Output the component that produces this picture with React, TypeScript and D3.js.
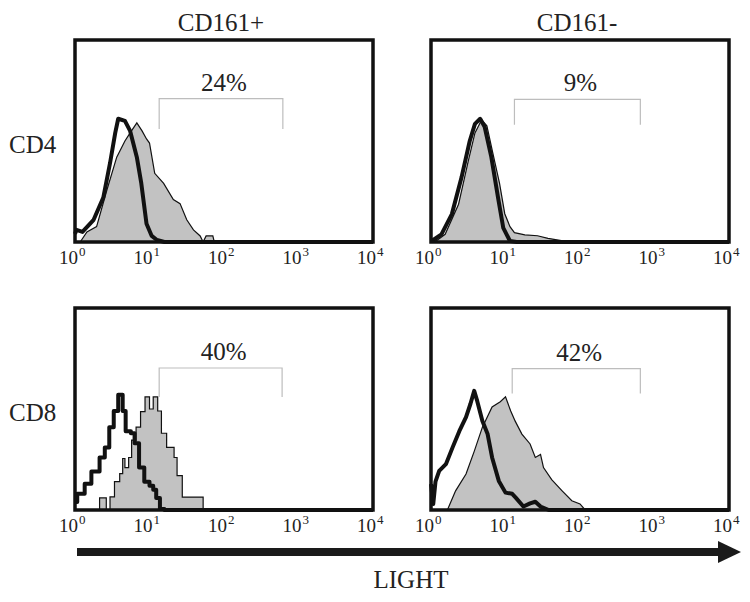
import React from "react";
import * as d3 from "d3";

// Column / row labels
const columnTitles = ["CD161+", "CD161-"];
const rowLabels = ["CD4", "CD8"];
const percentLabels = ["24%", "9%", "40%", "42%"];
const tickExponents = [0, 1, 2, 3, 4];
const axisTitle = "LIGHT";

// Histogram data: [log10 fluorescence, relative count (0-100 = box height)]
// Panel 1: CD4 / CD161+
const p1Isotype: [number, number][] = [
  [0.0, 4], [0.02, 6], [0.1, 5], [0.25, 11], [0.38, 22], [0.47, 39], [0.54, 54], [0.58, 61],
  [0.67, 60], [0.74, 55], [0.83, 42], [0.89, 29], [0.96, 9], [1.03, 3], [1.1, 1], [1.2, 0], [4, 0],
];
const p1Stain: [number, number][] = [
  [0.07, 0], [0.16, 5], [0.29, 7.6], [0.43, 26], [0.56, 42], [0.67, 50], [0.74, 54], [0.83, 59],
  [0.9, 55], [0.96, 51], [1.0, 49], [1.07, 34], [1.19, 29], [1.32, 21], [1.41, 19], [1.5, 11],
  [1.59, 6], [1.68, 3], [1.72, 0], [1.76, 3], [1.85, 3], [1.87, 0],
];
// Panel 2: CD4 / CD161-
const p2Isotype: [number, number][] = [
  [0.0, 1], [0.03, 1], [0.14, 3.8], [0.28, 13.8], [0.41, 32], [0.52, 50], [0.59, 58.5], [0.66, 61],
  [0.72, 57], [0.81, 42], [0.9, 22], [0.97, 7], [1.06, 0.5], [1.15, 0], [4, 0],
];
const p2Stain: [number, number][] = [
  [0.05, 0], [0.19, 3.8], [0.37, 18.7], [0.5, 40], [0.59, 54], [0.68, 60.5], [0.75, 57.5],
  [0.83, 44], [0.92, 29], [0.99, 14], [1.06, 7.6], [1.12, 4.6], [1.26, 3.5], [1.43, 3.1],
  [1.57, 1.8], [1.75, 0.7], [1.88, 0],
];
// Panel 3: CD8 / CD161+ (stepped)
const p3Isotype: [number, number][] = [
  [0.0, 4], [0.03, 8], [0.13, 13], [0.22, 19], [0.33, 26], [0.4, 31], [0.46, 41], [0.52, 49],
  [0.58, 57], [0.64, 49], [0.68, 39], [0.75, 38], [0.8, 33], [0.86, 21], [0.93, 14], [1.0, 12],
  [1.05, 10], [1.09, 6], [1.14, 0.5], [1.2, 0], [4, 0],
];
const p3Stain: [number, number][] = [
  [0.31, 0], [0.33, 6], [0.42, 0], [0.47, 6.5], [0.53, 14], [0.6, 18], [0.64, 25.5], [0.67, 21],
  [0.72, 26], [0.76, 34.6], [0.82, 41], [0.88, 48.7], [0.94, 56], [1.0, 50], [1.05, 56],
  [1.11, 49], [1.16, 38], [1.23, 31], [1.33, 26], [1.37, 17], [1.44, 6.4], [1.72, 0], [1.75, 0],
];
// Panel 4: CD8 / CD161-
const p4Isotype: [number, number][] = [
  [0.0, 12.8], [0.03, 3], [0.06, 14], [0.11, 19.4], [0.2, 22.7], [0.29, 31], [0.38, 39], [0.47, 46],
  [0.53, 52.6], [0.58, 59], [0.62, 54], [0.69, 44], [0.76, 37.6], [0.82, 26], [0.91, 14.4],
  [1.0, 8.6], [1.09, 8], [1.14, 6], [1.24, 1.7], [1.33, 3.3], [1.4, 4.1], [1.47, 1.7], [1.58, 0], [4, 0],
];
const p4Stain: [number, number][] = [
  [0.22, 0], [0.33, 9.5], [0.47, 17.8], [0.58, 29], [0.69, 41], [0.82, 51], [0.93, 53.6], [1.0, 56],
  [1.07, 49], [1.13, 44], [1.22, 37.6], [1.33, 32.7], [1.4, 26], [1.47, 27.5], [1.51, 21],
  [1.62, 15], [1.76, 9.5], [1.89, 4.6], [2.0, 3], [2.07, 0],
];

const isotypes = [p1Isotype, p2Isotype, p3Isotype, p4Isotype];
const stains = [p1Stain, p2Stain, p3Stain, p4Stain];
const stepped = [false, false, true, false];
// gate bracket (log10 bounds) and heights
const gateLow = [1.13, 1.12, 1.13, 1.09];
const gateHigh = [2.79, 2.81, 2.78, 2.81];
const gateTop = [71, 70.6, 70.3, 70];
const gateBottom = [56, 58, 56, 57.7];

const W = 750;
const H = 602;
const colX = [75, 431];
const rowY = [40, 308];
const boxW = 298;
const boxH = 202;
const FONT = "'Liberation Serif', 'Times New Roman', serif";

function Panel({ idx }: { idx: number }) {
  const col = idx % 2;
  const row = Math.floor(idx / 2);
  const x0 = colX[col];
  const y0 = rowY[row];
  const x = d3.scaleLog().domain([1, 1e4]).range([x0, x0 + boxW]);
  const y = d3.scaleLinear().domain([0, 100]).range([y0 + boxH, y0]);
  const curve = stepped[idx] ? d3.curveStepAfter : d3.curveLinear;
  const area = d3
    .area<[number, number]>()
    .x((d) => x(Math.pow(10, d[0])))
    .y0(y(0))
    .y1((d) => y(d[1]))
    .curve(curve);
  const line = d3
    .line<[number, number]>()
    .x((d) => x(Math.pow(10, d[0])))
    .y((d) => y(d[1]))
    .curve(curve);
  const gx1 = x(Math.pow(10, gateLow[idx]));
  const gx2 = x(Math.pow(10, gateHigh[idx]));
  const gyT = y(gateTop[idx]);
  const gyB = y(gateBottom[idx]);
  return (
    <g>
      <path d={area(stains[idx]) || ""} fill="#c2c2c2" stroke="none" />
      <path d={line(stains[idx]) || ""} fill="none" stroke="#111" strokeWidth={1.2} />
      <path
        d={line(isotypes[idx]) || ""}
        fill="none"
        stroke="#111"
        strokeWidth={4}
        strokeLinejoin="round"
      />
      <path
        d={`M${gx1},${gyB}V${gyT}H${gx2}V${gyB}`}
        fill="none"
        stroke="#bdbdbd"
        strokeWidth={1.2}
      />
      <text
        x={(gx1 + gx2) / 2 + 3}
        y={gyT - 8}
        textAnchor="middle"
        fontSize={25}
        fontFamily={FONT}
        fill="#222"
      >
        {percentLabels[idx]}
      </text>
      <rect x={x0} y={y0} width={boxW} height={boxH} fill="none" stroke="#111" strokeWidth={3.5} />
      {tickExponents.map((e) => {
        const tx = x(Math.pow(10, e));
        const by = y0 + boxH + 22;
        return (
          <g key={e}>
            <text x={tx + 3} y={by} textAnchor="end" fontSize={19} fontFamily={FONT} fill="#222">
              10
            </text>
            <text x={tx + 4} y={by - 8} textAnchor="start" fontSize={13} fontFamily={FONT} fill="#222">
              {e}
            </text>
          </g>
        );
      })}
    </g>
  );
}

export default function App() {
  return (
    <div style={{ position: "absolute", left: 0, top: 0 }}>
      <svg width={W} height={H} style={{ display: "block", background: "#fff" }}>
        <rect x={0} y={0} width={W} height={H} fill="#fff" />
        {columnTitles.map((t, i) => (
          <text
            key={t}
            x={colX[i] + boxW / 2 - 3}
            y={31}
            textAnchor="middle"
            fontSize={25}
            fontFamily={FONT}
            fill="#222"
          >
            {t}
          </text>
        ))}
        {rowLabels.map((t, i) => (
          <text key={t} x={9} y={rowY[i] + 113} fontSize={25} fontFamily={FONT} fill="#222">
            {t}
          </text>
        ))}
        {[0, 1, 2, 3].map((i) => (
          <Panel key={i} idx={i} />
        ))}
        <rect x={77} y={548} width={643} height={8} fill="#1a1a1a" />
        <path d="M718,541L741,552L718,563Z" fill="#1a1a1a" />
        <text x={411} y={588} textAnchor="middle" fontSize={25} fontFamily={FONT} fill="#222">
          {axisTitle}
        </text>
      </svg>
    </div>
  );
}
